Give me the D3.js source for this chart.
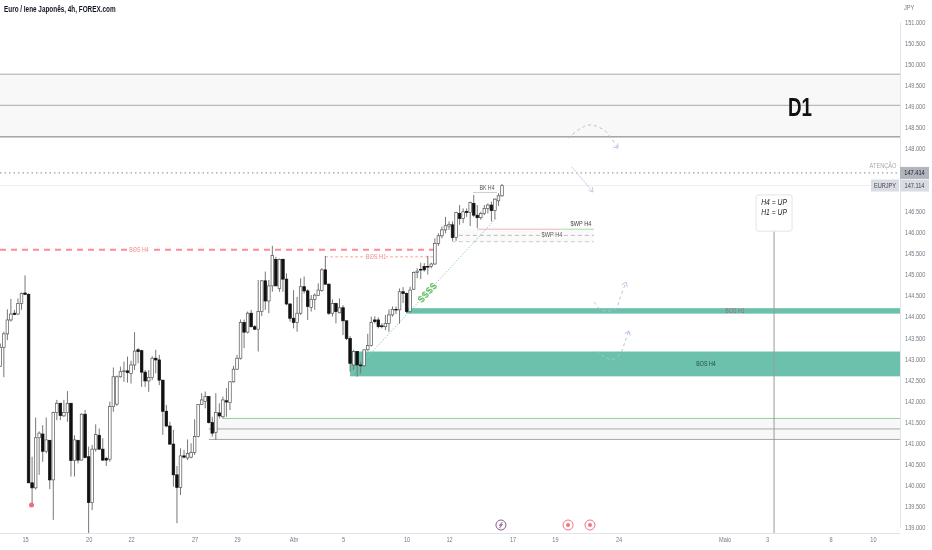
<!DOCTYPE html>
<html>
<head>
<meta charset="utf-8">
<script src="https://cdn.jsdelivr.net/npm/d3@7"></script>
<style>
  html, body { margin: 0; padding: 0; background: #fff; }
  svg { display: block; filter: blur(0.35px); }
  text { font-family: "Liberation Sans", sans-serif; }
</style>
</head>
<body>
<div id="chart"></div>
<script>
// candles
const opens = [142.82,143.27,143.59,143.92,144.08,144.06,144.31,144.56,144.53,140.05,139.93,141.12,141.21,140.8,141.06,140.12,141.72,141.94,141.64,141.72,141.94,140.58,141.06,140.59,141.68,140.67,139.58,140.85,141.18,140.85,140.63,140.61,141.86,141.92,142.57,142.69,142.71,
  142.65,142.85,143.21,143.19,142.68,142.47,142.55,143.01,142.97,142.49,141.75,141.4,140.97,140.24,139.94,140.69,140.64,140.66,140.77,141.15,141.91,141.98,142.1,141.48,141.25,141.71,141.62,142,141.96,142.45,142.75,143.01,143.86,143.63,144.08,143.76,143.7,
  144.12,144.85,144.37,144.73,145.36,144.67,145.36,144.89,144.3,143.96,143.86,144.08,144.71,144.61,144.22,144.41,144.5,144.62,145.11,144.77,144.08,144.31,144.09,144.21,143.9,143.48,142.85,143.17,142.85,142.83,143.21,143.31,143.92,143.92,143.78,143.76,143.84,
  144.04,144.17,144.16,144.59,144.55,144.12,144.65,145.05,145.12,145.19,145.19,145.19,145.25,145.74,145.92,146.06,146.15,146.18,145.88,146.45,146.33,146.5,146.47,146.69,146.41,146.35,146.45,146.57,146.65,146.52,146.75,146.87];
const highs = [143.36,143.64,144.17,144.42,144.16,144.43,144.57,144.98,144.55,140.67,141.6,141.27,141.42,141.6,141.07,141.74,142.02,141.95,142.02,142.23,141.95,141.18,141.07,141.7,141.78,140.91,140.95,141.44,141.34,141.11,140.67,141.98,142.79,142.6,142.81,142.93,143.05,
  142.95,143.63,143.25,143.21,142.73,142.73,143.06,143.21,143.09,142.49,141.9,141.5,141.31,140.45,140.87,140.83,141.08,140.99,141.56,141.92,142.18,142.22,142.11,141.62,142.18,141.94,142.1,142.3,142.47,142.83,143.09,143.93,143.93,144.12,144.16,143.8,144.87,
  144.87,145.07,144.87,145.68,145.42,145.38,145.38,145.03,144.31,144.63,144.47,144.91,144.95,144.65,144.51,144.55,144.79,145.15,145.44,144.79,144.41,144.33,144.43,144.27,143.9,143.54,143.21,143.18,142.93,143.22,143.59,144,144.01,143.98,143.84,144.04,144.17,
  144.24,144.24,144.67,144.7,144.57,144.71,145.07,145.15,145.28,145.27,145.44,145.28,145.86,145.98,146.14,146.37,146.26,146.26,146.49,146.65,146.57,146.57,146.73,146.89,146.65,146.49,146.65,146.69,146.73,146.81,146.93,147.15];
const lows = [142.81,142.56,143.44,143.88,144.04,144.04,144.16,144.51,140.05,139.48,139.89,140.24,140.55,140.75,139.9,139.17,141.54,141.54,141.62,141.5,140.2,140.2,140.51,140.58,140.63,138.85,139.4,140.79,140.83,140.57,140.45,140.55,141.74,141.88,142.55,142.45,142.43,
  142.41,142.73,142.89,142.33,142.33,142.21,142.49,142.65,142.37,141.19,141.37,140.95,139.96,139.09,139.76,140.63,140.59,140.63,140.71,141.13,141.9,141.82,141.46,141.15,141.07,141.58,141.58,141.62,141.78,142.43,142.73,142.98,143.25,143.6,143.74,143.68,143.17,
  144.01,144.16,144.08,144.59,144.72,144.59,144.59,144.27,143.88,143.72,143.64,144.04,144.55,143.92,144.12,144.16,144.49,144.59,144.75,144.04,144,143.84,144.08,143.56,143.44,142.69,142.73,142.57,142.65,142.81,143.19,143.29,143.84,143.72,143.72,143.68,143.64,
  144,144.06,143.83,144.32,144.08,144.09,144.63,144.91,144.89,145.07,145,145.15,145.23,145.68,145.86,145.98,146.06,145.8,145.8,146.18,146.22,146.37,146.15,146.37,146.1,146.3,146.41,146.45,146.26,146.31,146.63,146.85];
const closes = [143.27,143.59,143.92,144.06,144.05,144.31,144.55,144.53,140.05,139.93,141.12,141.23,140.8,141.07,140.12,141.72,141.94,141.65,141.72,141.94,140.58,141.07,140.59,141.68,140.65,139.58,140.85,141.2,140.85,140.59,140.59,141.86,142.57,142.57,142.69,142.71,142.67,
  142.85,143.18,143.17,142.68,142.47,142.55,143.01,142.97,142.49,141.75,141.4,140.97,140.24,139.94,140.69,140.66,140.75,140.77,141.15,141.91,142.02,142.1,141.48,141.23,141.72,141.64,142.02,141.97,142.45,142.75,143.01,143.86,143.63,144.08,143.76,143.7,144.12,
  144.85,144.37,144.73,145.45,144.73,145.36,144.89,144.3,143.96,143.86,144.08,144.71,144.61,144.24,144.41,144.51,144.63,145.11,144.77,144.08,144.31,144.12,144.21,143.9,143.48,142.89,143.17,142.85,142.83,143.21,143.31,143.86,143.88,143.76,143.76,143.84,144.04,
  144.17,144.16,144.59,144.55,144.12,144.63,145.05,145.08,145.11,145.11,145.18,145.25,145.74,145.92,146.06,146.16,146.19,145.88,146.47,146.33,146.49,146.47,146.71,146.41,146.35,146.45,146.57,146.65,146.52,146.79,146.87,147.11];

const priceTicks = [139,139.5,140,140.5,141,141.5,142,142.5,143,143.5,144,144.5,145,145.5,146,146.5,147,147.5,148,148.5,149,149.5,150,150.5,151];
const timeTicks = [7,25,37,55,67,83,97,115,127,145,157,175,205,217,235,247];
const timeLabels = ['15','20','22','27','29','Abr','5','10','12','17','19','24','Maio','3','8','10'];

// levels drawn on the chart (prices)
const lastPrice = 147.114;
const attention = 147.414;
const topZone = [149.76, 149.02, 148.27];
const lowZone = [141.58, 141.33, 141.08];
const bosH1Zone = [144.2, 144.07];
const bosH4Zone = [143.17, 142.58];
const swpLow = [145.93, 145.78];
// drawing paths as [bar, price]
const arcTop = [[160.7,148.24],[166.3,148.55],[170.9,148.43],[174.8,148.0]];
const arcMid = [[168.1,144.35],[169.7,144.18],[172,144.13],[174.3,144.2],[175.4,144.44],[177.1,144.82]];
const arcLow = [[168.9,143.18],[171.4,143.02],[173.1,142.98],[175.4,143.11],[176.8,143.4],[177.9,143.66]];
const arrowDown = [[161.8,147.55],[167.8,146.96]];
const trend = [[99,142.6],[140.5,146.35]];
const noteBar = 219;

const W = 932, H = 550, plotR = 900, plotB = 533;
const x = d3.scaleLinear().domain([0, 142]).range([0.3, 502]);
const y = d3.scaleLinear().domain([139, 151]).range([527, 22]);

const svg = d3.select('#chart').append('svg').attr('width', W).attr('height', H);

svg.append('clipPath').attr('id', 'plot').append('rect')
  .attr('width', plotR).attr('height', plotB);
const g = svg.append('g').attr('clip-path', 'url(#plot)');

function zone(x0, top, bottom, fill) {
  g.append('rect').attr('x', x0).attr('y', y(top))
    .attr('width', plotR - x0).attr('height', y(bottom) - y(top)).attr('fill', fill);
}
function hline(x0, x1, price, color, width, dash) {
  g.append('line').attr('x1', x0).attr('x2', x1).attr('y1', y(price)).attr('y2', y(price))
    .attr('stroke', color).attr('stroke-width', width).attr('stroke-dasharray', dash || null);
}
function label(px, price, txt, color, size) {
  return g.append('text').attr('x', px).attr('y', y(price)).attr('text-anchor', 'middle')
    .attr('dominant-baseline', 'middle').attr('fill', color).attr('font-size', size).text(txt);
}

// zones
zone(0, topZone[0], topZone[2], '#f8f8f8');
zone(x(59), lowZone[0], lowZone[2], '#f8f8f8');
zone(x(115), bosH1Zone[0], bosH1Zone[1], '#6cc1ad');
zone(x(99), bosH4Zone[0], bosH4Zone[1], '#6cc1ad');
topZone.forEach((p, i) => hline(0, plotR, p, i == 2 ? '#777' : '#aaa', 1));
hline(x(63), plotR, lowZone[0], '#8fcf8f', 1);
hline(x(59), plotR, lowZone[1], '#aaa', 1);
hline(x(59), plotR, lowZone[2], '#aaa', 1);

// price lines
hline(0, plotR, attention, '#888', 1, '1.5 3');
hline(0, plotR, lastPrice, '#eeeeee', 1);

// structure lines
hline(0, x(122.7), 145.59, '#ff8a94', 2, '6 5');
hline(x(92), x(122.5), 145.42, '#ff9a9a', 1, '2.5 2.5');
hline(x(135), x(158.5), 146.07, '#e59a9a', 1.5);
hline(x(158.5), x(168), 146.07, '#86cf86', 1.5);
g.append('rect').attr('x', x(127.8)).attr('y', y(146.07))
  .attr('width', x(168) - x(127.8)).attr('height', y(swpLow[1]) - y(146.07)).attr('fill', '#fafafa');
hline(x(127.8), x(168), swpLow[0], '#bbb', 1, '4 3');
hline(x(127.8), x(168), swpLow[1], '#ccc', 1, '4 3');
hline(x(133.8), x(140.6), 146.95, '#ccc', 1);

const lineGen = d3.line().x(d => x(d[0])).y(d => y(d[1]));
g.append('path').attr('d', lineGen(trend)).attr('fill', 'none')
  .attr('stroke', '#8fd0c0').attr('stroke-width', 1).attr('stroke-dasharray', '1.5 1.5');

// candles
const idx = d3.range(opens.length);
g.selectAll('line.wick').data(idx).join('line').attr('class', 'wick')
  .attr('x1', i => x(i)).attr('x2', i => x(i))
  .attr('y1', i => y(highs[i])).attr('y2', i => y(lows[i]))
  .attr('stroke', '#777').attr('stroke-width', 1);
g.selectAll('rect.body').data(idx).join('rect').attr('class', 'body')
  .attr('x', i => x(i) - 1.3).attr('width', 2.6)
  .attr('y', i => y(Math.max(opens[i], closes[i])))
  .attr('height', i => Math.max(0.6, Math.abs(y(opens[i]) - y(closes[i]))))
  .attr('fill', i => closes[i] >= opens[i] ? '#fff' : '#111')
  .attr('stroke', i => closes[i] >= opens[i] ? '#555' : '#111')
  .attr('stroke-width', 0.7);

// dashed curves
const curve = d3.line().x(d => x(d[0])).y(d => y(d[1])).curve(d3.curveCatmullRom);
[arcTop, arcMid, arcLow].forEach(pts => {
  g.append('path').attr('d', curve(pts)).attr('fill', 'none')
    .attr('stroke', '#a9c4d8').attr('stroke-width', 1).attr('stroke-dasharray', '3 3');
  const a = pts[pts.length - 1];
  const b = pts[pts.length - 2];
  const ang = Math.atan2(y(a[1]) - y(b[1]), x(a[0]) - x(b[0]));
  [-2.5, 2.5].forEach(d => g.append('line')
    .attr('x1', x(a[0])).attr('y1', y(a[1]))
    .attr('x2', x(a[0]) + 5 * Math.cos(ang + d)).attr('y2', y(a[1]) + 5 * Math.sin(ang + d))
    .attr('stroke', '#b8c4dc').attr('stroke-width', 1));
});
g.append('path').attr('d', lineGen(arrowDown)).attr('fill', 'none')
  .attr('stroke', '#b8c4dc').attr('stroke-width', 1).attr('stroke-dasharray', '2 1');
{
  const a = arrowDown[1], b = arrowDown[0];
  const ang = Math.atan2(y(a[1]) - y(b[1]), x(a[0]) - x(b[0]));
  [-2.6, 2.6].forEach(d => g.append('line')
    .attr('x1', x(a[0])).attr('y1', y(a[1]))
    .attr('x2', x(a[0]) + 5 * Math.cos(ang + d)).attr('y2', y(a[1]) + 5 * Math.sin(ang + d))
    .attr('stroke', '#c4cee0').attr('stroke-width', 1));
}

// labels on the chart
label(139, 145.59, 'BOS H4', '#f08a8a', 7).attr('stroke', '#fff').attr('stroke-width', 2).attr('paint-order', 'stroke');
label(376, 145.42, 'BOS H1', '#f08a8a', 7.5).attr('stroke', '#fff').attr('stroke-width', 2).attr('paint-order', 'stroke');
label(487, 147.05, 'BK H4', '#555', 7);
label(581, 146.21, '$WP H4', '#444', 7.5);
label(552, 145.94, '$WP H4', '#555', 7.5).attr('stroke', '#fff').attr('stroke-width', 1.5).attr('paint-order', 'stroke');
label(735, 144.13, 'BOS H1', '#9b6a78', 7);
label(706, 142.87, 'BOS H4', '#2d4a44', 7);
label(883, 147.58, 'ATENÇÃO', '#aaa', 7.5);
label(800, 148.92, 'D1', '#111', 25).attr('font-weight', 700);
g.append('text').attr('class', 'keep').attr('transform', `translate(428,293) rotate(-48)`)
  .attr('text-anchor', 'middle').attr('dominant-baseline', 'middle')
  .attr('fill', '#67c167').attr('font-size', 10).attr('font-weight', 700).attr('letter-spacing', 0.3).text('$$$$');

// note with its pole
g.append('line').attr('x1', x(noteBar)).attr('x2', x(noteBar)).attr('y1', y(146.03)).attr('y2', plotB)
  .attr('stroke', '#999').attr('stroke-width', 1);
g.append('rect').attr('x', x(noteBar) - 18).attr('y', y(146.89)).attr('width', 36).attr('height', y(146.03) - y(146.89))
  .attr('rx', 2).attr('fill', '#fff').attr('stroke', '#e4e4e4');
['H4 = UP', 'H1 = UP'].forEach((t, i) => {
  label(x(noteBar), i ? 146.46 : 146.70, t, '#222', 9).attr('font-style', 'italic');
});

// event markers
g.append('circle').attr('cx', 31.5).attr('cy', y(139.52)).attr('r', 2.5).attr('fill', '#f06b7d');
[[x(141.7), '#8a5a8a', '#fff'], [x(160.7), '#f2737f', '#f2737f'], [x(166.9), '#f2737f', '#f2737f']].forEach(e => {
  g.append('circle').attr('cx', e[0]).attr('cy', 525).attr('r', 5).attr('fill', '#fff').attr('stroke', e[1]).attr('stroke-width', 1);
  if (e[2] != '#fff') {
    g.append('circle').attr('cx', e[0]).attr('cy', 525).attr('r', 2).attr('fill', e[2]);
  } else {
    g.append('path').attr('d', d3.line()([[e[0] + 1.5, 522], [e[0] - 1.5, 525.5], [e[0] + 1.5, 524.5], [e[0] - 1.5, 528]]))
      .attr('fill', 'none').attr('stroke', e[1]).attr('stroke-width', 1);
  }
});

// axes
const axisRight = d3.axisRight(y).tickValues(priceTicks.filter(p => p != 147 && p != 147.5)).tickFormat(d3.format('.3f')).tickSize(0).tickPadding(5);
const axisY = svg.append('g').attr('transform', `translate(${plotR},0)`).call(axisRight);
axisY.select('.domain').attr('stroke', '#e0e3eb');
axisY.selectAll('text').attr('fill', '#787b86').attr('font-size', 7.5).attr('font-family', null);

const axisBottom = d3.axisBottom(x).tickValues(timeTicks).tickFormat((d, i) => timeLabels[i]).tickSize(0).tickPadding(4);
const axisX = svg.append('g').attr('transform', `translate(0,${plotB})`).call(axisBottom);
axisX.select('.domain').remove();
axisX.selectAll('text').attr('fill', '#787b86').attr('font-size', 7.5).attr('font-family', null);
svg.append('line').attr('x1', 0).attr('x2', plotR).attr('y1', plotB + 0.5).attr('y2', plotB + 0.5).attr('stroke', '#e0e3eb');

svg.append('text').attr('x', 904).attr('y', 10).attr('fill', '#787b86').attr('font-size', 7.5).text('JPY');

// price tags
function priceTag(px, w, price, fill, txt, color) {
  svg.append('rect').attr('x', px).attr('y', y(price) - 6).attr('width', w).attr('height', 12).attr('fill', fill);
  svg.append('text').attr('x', px + w / 2).attr('y', y(price)).attr('text-anchor', 'middle')
    .attr('dominant-baseline', 'middle').attr('fill', color).attr('font-size', 7.5).text(txt);
}
priceTag(900, 29, attention, '#b2b5be', d3.format('.3f')(attention), '#222');
priceTag(871, 28, lastPrice, '#d9dce4', 'EURJPY', '#444');
priceTag(900, 29, lastPrice, '#d9dce4', d3.format('.3f')(lastPrice), '#444');

svg.append('text').attr('x', 4).attr('y', 12).attr('fill', '#131722').attr('font-size', 8.5).attr('font-weight', 700)
  .text('Euro / Iene Japonês, 4h, FOREX.com');

// the source picture's lettering is narrow, squeeze it to match
svg.selectAll('text:not(.keep)').each(function() {
  const len = this.getComputedTextLength();
  d3.select(this).attr('textLength', len * 0.75).attr('lengthAdjust', 'spacingAndGlyphs');
});
</script>
</body>
</html>
